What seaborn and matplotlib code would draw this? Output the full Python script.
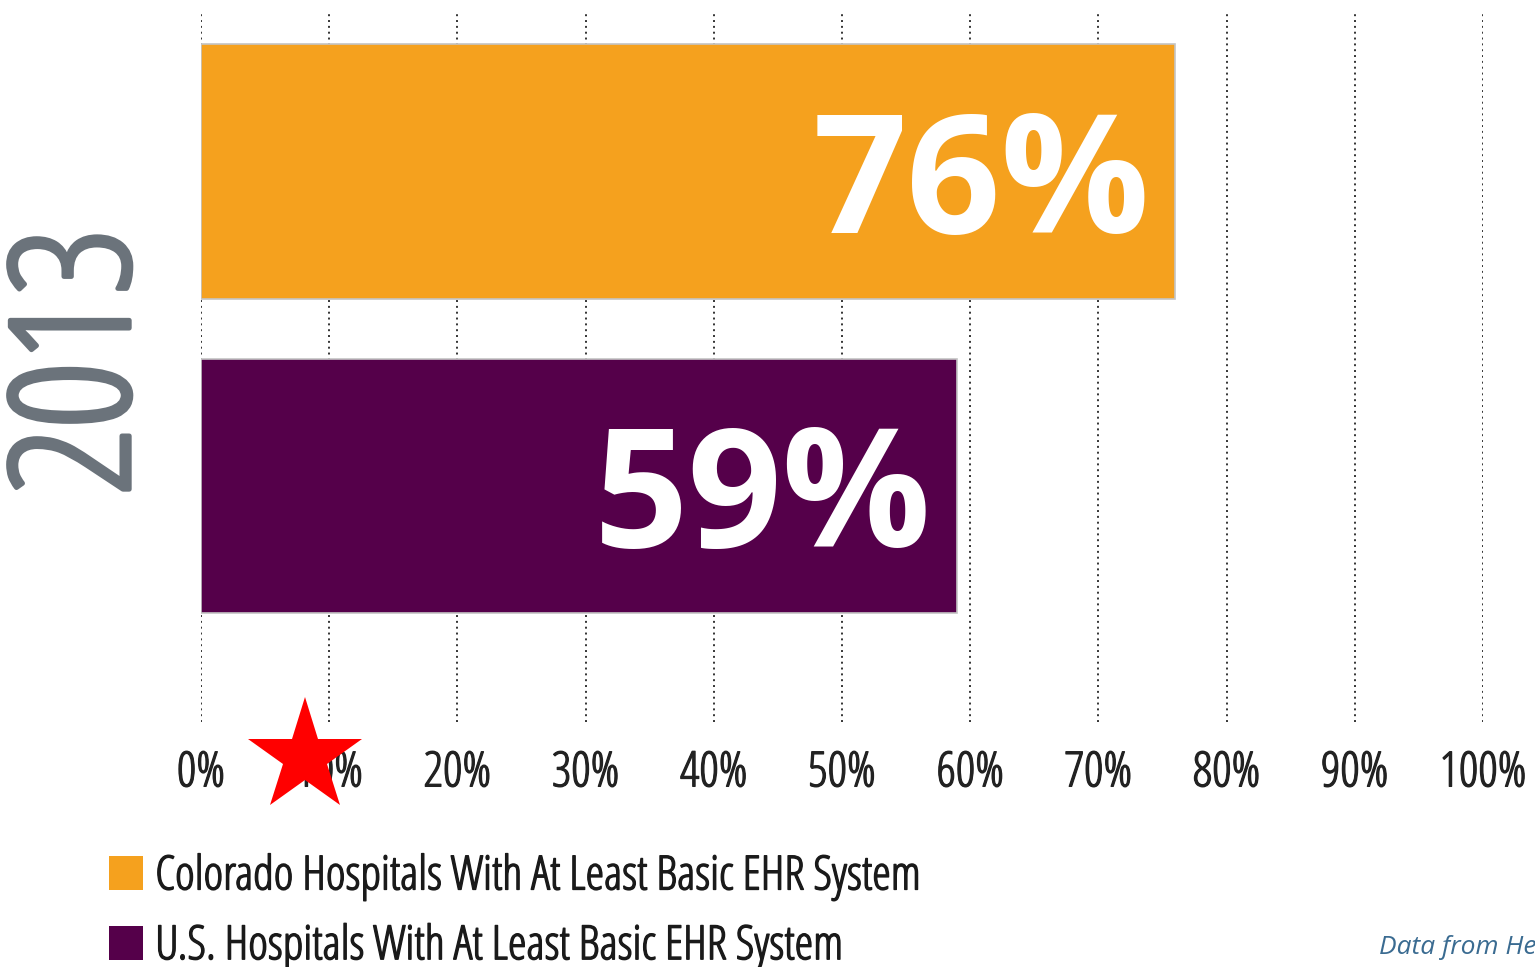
import pandas as pd
import seaborn as sns
import matplotlib.pyplot as plt
from matplotlib import font_manager as fm
from matplotlib import patheffects as pe
from matplotlib.patches import Patch

# Werte aus dem Bild
groups = ["Colorado Hospitals With At Least Basic EHR System",
          "U.S. Hospitals With At Least Basic EHR System"]
shares = [76, 59]
bar_labels = ["76%", "59%"]
bar_colors = ["#F5A11E", "#55004A"]
x_ticks = [0, 10, 20, 30, 40, 50, 60, 70, 80, 90, 100]
x_tick_labels = [f"{t}%" for t in x_ticks]
year = "2013"
source_note = "Data from He"


def pick_narrow_font():
    """Sucht eine schmale Schrift (Narrow/Condensed) unter den installierten."""
    narrow = [f for f in fm.fontManager.ttflist
              if f.stretch in ("condensed", "semi-condensed", "extra-condensed")
              or "Narrow" in f.name or "Condensed" in f.name]
    order = ["Liberation Sans Narrow", "Noto Sans", "Open Sans", "Roboto",
             "DejaVu Sans", "Lato", "Inter"]
    for name in order:
        hits = [f for f in narrow if f.name == name]
        if hits:
            return name, hits[0].stretch
    if narrow:
        return narrow[0].name, narrow[0].stretch
    return "Liberation Sans", "normal"


def thicker(color, lw):
    # die Condensed-Schrift gibt es nur in "Light" -> Strich etwas verstärken
    return [pe.withStroke(linewidth=lw, foreground=color)]


def draw_chart(output: str) -> None:
    df = pd.DataFrame({"Gruppe": groups, "Anteil": shares})

    sns.set_style("white")
    family, stretch = pick_narrow_font()
    plt.rcParams["font.family"] = [family, "DejaVu Sans"]
    plt.rcParams["font.stretch"] = stretch

    fig = plt.figure(figsize=(15.35, 9.67), dpi=100)
    ax = fig.add_axes([201 / 1535, 1 - 722 / 967, 1282 / 1535, 708 / 967])

    sns.barplot(
        data=df, x="Anteil", y="Gruppe", hue="Gruppe",
        palette=bar_colors, orient="h", width=0.81, saturation=1,
        edgecolor="#c4c4c4", linewidth=1.2, legend=False, ax=ax, zorder=3,
    )

    # Zahlen in den Balken
    for i, (val, lab) in enumerate(zip(shares, bar_labels)):
        ax.text(val - 2.0, i + 0.195, lab, color="white", fontsize=119,
                fontweight="bold", ha="right", va="baseline", zorder=4)

    ax.set_xlim(0, 100)
    ax.set_ylim(1.75, -0.5)
    ax.set_xticks(x_ticks)
    ax.set_xticklabels(x_tick_labels, fontsize=35, color="#222222")
    for t in ax.get_xticklabels():
        t.set_path_effects(thicker("#222222", 0.9))
    ax.tick_params(axis="x", length=0, pad=19)
    ax.set_yticks([])
    ax.set_xlabel("")
    ax.set_ylabel("")
    for s in ax.spines.values():
        s.set_visible(False)
    ax.grid(axis="x", linestyle=(0, (1, 2.0)), color="#333333",
            linewidth=1.4, zorder=0)
    ax.set_axisbelow(True)

    # Jahreszahl links
    fig.text(86 / 1535, 1 - 362 / 967, year, rotation=90, fontsize=120,
             color="#6B737B", ha="center", va="center",
             path_effects=thicker("#6B737B", 3.5))

    # Legende
    handles = [Patch(facecolor=c, edgecolor="none") for c in bar_colors]
    leg = fig.legend(handles, groups, loc="upper left",
                     bbox_to_anchor=(100 / 1535, 1 - 843 / 967),
                     frameon=False, fontsize=34, handlelength=0.72,
                     handleheight=0.72, handletextpad=0.25, labelspacing=0.45,
                     borderaxespad=0, borderpad=0.2, labelcolor="#1a1a1a")
    for t in leg.get_texts():
        t.set_path_effects(thicker("#1a1a1a", 1.0))

    # roter Stern
    ax.plot([305 / 1535], [1 - 757 / 967], transform=fig.transFigure,
            marker="*", markersize=86, color="#FF0000", markeredgewidth=0,
            clip_on=False, zorder=10)

    # Quelle
    fig.text(1379 / 1535, 1 - 948 / 967, source_note, fontsize=19,
             family=["Open Sans", "DejaVu Sans"], stretch="normal",
             style="italic", color="#3A6B91", ha="left", va="center")

    fig.savefig(output, dpi=100)
    plt.close(fig)


if __name__ == "__main__":
    draw_chart("out.png")
